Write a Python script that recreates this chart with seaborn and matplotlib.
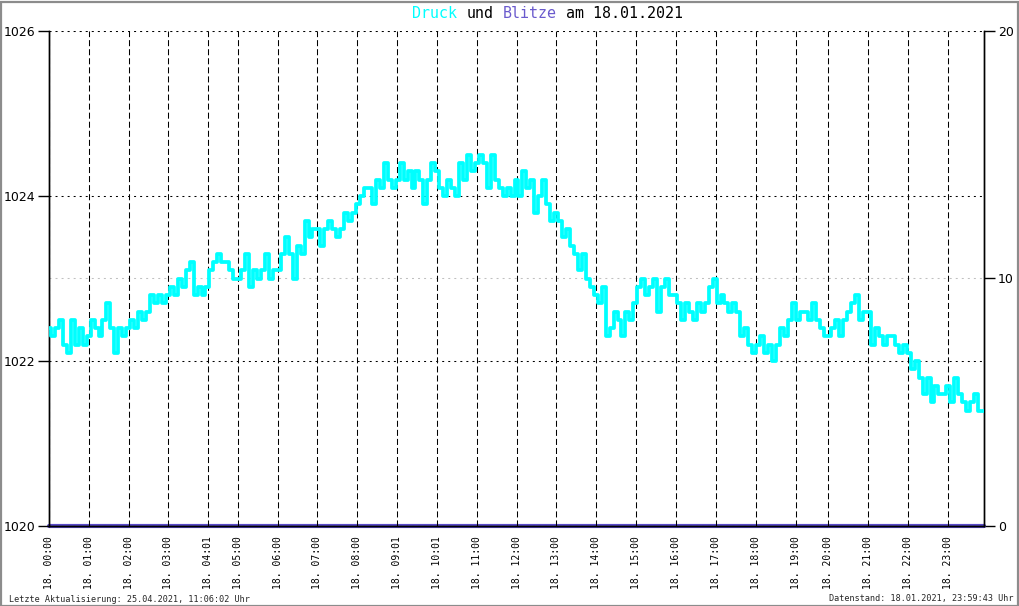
import numpy as np
import pandas as pd
import matplotlib
matplotlib.use("Agg")
import matplotlib.pyplot as plt
import seaborn as sns
from matplotlib.patches import Rectangle

# ---------------- data ----------------
# Luftdruck (hPa), ~4 min resolution, hour by hour
druck = [
    # 00
    1022.4, 1022.3, 1022.4, 1022.5, 1022.2, 1022.1, 1022.5, 1022.2, 1022.4, 1022.2,
    # 01
    1022.3, 1022.5, 1022.4, 1022.3, 1022.5, 1022.7, 1022.4, 1022.1, 1022.4, 1022.3,
    # 02
    1022.4, 1022.5, 1022.4, 1022.6, 1022.5, 1022.6, 1022.8, 1022.7, 1022.8, 1022.7,
    # 03
    1022.8, 1022.9, 1022.8, 1023.0, 1022.9, 1023.1, 1023.2, 1022.8, 1022.9, 1022.8,
    # 04
    1022.9, 1023.1, 1023.2, 1023.3, 1023.2, 1023.2, 1023.1, 1023.0,
    # 05
    1023.0, 1023.1, 1023.3, 1022.9, 1023.1, 1023.0, 1023.1, 1023.3, 1023.0, 1023.1,
    # 06
    1023.1, 1023.3, 1023.5, 1023.3, 1023.0, 1023.4, 1023.3, 1023.7, 1023.5, 1023.6,
    # 07
    1023.6, 1023.4, 1023.6, 1023.7, 1023.6, 1023.5, 1023.6, 1023.8, 1023.7, 1023.8,
    # 08
    1023.9, 1024.0, 1024.1, 1024.1, 1023.9, 1024.2, 1024.1, 1024.4, 1024.2, 1024.1,
    # 09
    1024.2, 1024.4, 1024.2, 1024.3, 1024.1, 1024.3, 1024.2, 1023.9, 1024.2, 1024.4,
    # 10
    1024.3, 1024.1, 1024.0, 1024.2, 1024.1, 1024.0, 1024.4, 1024.2, 1024.5, 1024.3,
    # 11
    1024.4, 1024.5, 1024.4, 1024.1, 1024.5, 1024.2, 1024.1, 1024.0, 1024.1, 1024.0,
    # 12
    1024.2, 1024.0, 1024.3, 1024.1, 1024.2, 1023.8, 1024.0, 1024.2, 1023.9, 1023.7,
    # 13
    1023.8, 1023.7, 1023.5, 1023.6, 1023.4, 1023.3, 1023.1, 1023.3, 1023.0, 1022.9,
    # 14
    1022.8, 1022.7, 1022.9, 1022.3, 1022.4, 1022.6, 1022.5, 1022.3, 1022.6, 1022.5,
    # 15
    1022.7, 1022.9, 1023.0, 1022.8, 1022.9, 1023.0, 1022.6, 1022.9, 1023.0, 1022.8,
    # 16
    1022.8, 1022.7, 1022.5, 1022.7, 1022.6, 1022.5, 1022.7, 1022.6, 1022.7, 1022.9,
    # 17
    1023.0, 1022.7, 1022.8, 1022.7, 1022.6, 1022.7, 1022.6, 1022.3, 1022.4, 1022.2,
    # 18
    1022.1, 1022.2, 1022.3, 1022.1, 1022.2, 1022.0, 1022.2, 1022.4, 1022.3, 1022.5,
    # 19
    1022.7, 1022.5, 1022.6, 1022.6, 1022.5, 1022.7, 1022.5, 1022.4, 1022.3,
    # 20
    1022.3, 1022.4, 1022.5, 1022.3, 1022.5, 1022.6, 1022.7, 1022.8, 1022.5, 1022.6,
    # 21
    1022.6, 1022.2, 1022.4, 1022.3, 1022.2, 1022.3, 1022.3, 1022.2, 1022.1, 1022.2,
    # 22
    1022.1, 1021.9, 1022.0, 1021.8, 1021.6, 1021.8, 1021.5, 1021.7, 1021.6, 1021.6,
    # 23
    1021.7, 1021.5, 1021.8, 1021.6, 1021.5, 1021.4, 1021.5, 1021.6, 1021.4, 1021.4,
]
# Blitze (Anzahl) - keine Blitze an diesem Tag
blitze_zeit = [0.0, 24.0]
blitze_anzahl = [0, 0]

tick_labels = ["18. 00:00", "18. 01:00", "18. 02:00", "18. 03:00", "18. 04:01",
               "18. 05:00", "18. 06:00", "18. 07:00", "18. 08:00", "18. 09:01",
               "18. 10:01", "18. 11:00", "18. 12:00", "18. 13:00", "18. 14:00",
               "18. 15:00", "18. 16:00", "18. 17:00", "18. 18:00", "18. 19:00",
               "18. 20:00", "18. 21:00", "18. 22:00", "18. 23:00"]
tick_pos = [0.0, 1.027, 2.053, 3.054, 4.081, 4.851, 5.878, 6.879, 7.906, 8.932,
            9.959, 10.986, 12.013, 13.014, 14.040, 15.067, 16.094, 17.121, 18.147,
            19.174, 19.996, 21.022, 22.049, 23.076]

left_ticks = [1020, 1022, 1024, 1026]
right_ticks = [0, 10, 20]

title_parts = ["Druck", "und", "Blitze", "am 18.01.2021"]
title_colors = ["#00FFFF", "black", "#6A5ACD", "black"]

# ---------------- plot ----------------
sns.set_theme(style="white")
plt.rcParams["font.family"] = ["DejaVu Sans"]

W, H = 1020, 606
fig = plt.figure(figsize=(W / 100, H / 100), dpi=100)
fig.patch.set_facecolor("white")

x0, x1, y0, y1 = 49, 984, 31, 526
ax = fig.add_axes([x0 / W, 1 - y1 / H, (x1 - x0) / W, (y1 - y0) / H])
ax2 = ax.twinx()

df = pd.DataFrame({"zeit": np.linspace(0, 24, len(druck)), "druck": druck})
sns.lineplot(data=df, x="zeit", y="druck", ax=ax, color="#00FFFF",
             linewidth=2.7, drawstyle="steps-mid", zorder=3)

dfb = pd.DataFrame({"zeit": blitze_zeit, "anzahl": blitze_anzahl})
sns.lineplot(data=dfb, x="zeit", y="anzahl", ax=ax2, color="#5A4BC8",
             linewidth=3.0, clip_on=False, zorder=1)

ax.set_xlim(0, 24)
ax.set_ylim(1020, 1026)
ax2.set_ylim(0, 20)

ax.set_xticks(tick_pos)
ax.set_xticklabels(tick_labels, rotation=90, family="DejaVu Sans Mono",
                   fontsize=7, va="top")
ax.set_yticks(left_ticks)
ax.set_yticklabels([str(t) for t in left_ticks], fontsize=9)
ax2.set_yticks(right_ticks)
ax2.set_yticklabels([str(t) for t in right_ticks], fontsize=9)

ax.set_xlabel("")
ax.set_ylabel("")
ax2.set_ylabel("")

# grids
ax.grid(False)
ax2.grid(False)
ax.xaxis.grid(True, color="black", linewidth=0.75, linestyle=(0, (5.8, 2.9)))
ax.yaxis.grid(True, color="black", linewidth=0.75, linestyle=(0, (1.9, 3.9)))
ax2.yaxis.grid(True, color="#c0c0c0", linewidth=0.75, linestyle=(0, (1.9, 3.9)))
ax.set_axisbelow(True)

# put pressure axes above the twin (so grey grid stays behind the data)
ax.set_zorder(ax2.get_zorder() + 1)
ax.patch.set_visible(False)
ax2.patch.set_facecolor("white")

for a in (ax, ax2):
    a.spines["top"].set_visible(False)
    for s in ("left", "right", "bottom"):
        a.spines[s].set_color("black")
        a.spines[s].set_linewidth(1.0)

ax.tick_params(axis="x", length=0, pad=7, colors="black")
ax.tick_params(axis="y", direction="out", length=8, width=1, pad=2,
               colors="black", left=True)
ax2.tick_params(axis="y", direction="out", length=8, width=1, pad=2,
                colors="black", right=True)

# multicoloured title (monospace, each word placed by character offset)
title_fs = 10.8
char_px = 0.602 * title_fs * 100 / 72
offset = 0
for txt, col in zip(title_parts, title_colors):
    fig.text((412 + offset * char_px) / W, 1 - 14 / H, txt,
             family="DejaVu Sans Mono", fontsize=title_fs, color=col,
             ha="left", va="center")
    offset += len(txt) + 1

fig.text(9 / W, 1 - 599 / H, "Letzte Aktualisierung: 25.04.2021, 11:06:02 Uhr",
         family="DejaVu Sans Mono", fontsize=6.1, ha="left", va="center")
fig.text(1014 / W, 1 - 599 / H, "Datenstand: 18.01.2021, 23:59:43 Uhr",
         family="DejaVu Sans Mono", fontsize=6.1, ha="right", va="center")

# grey frame around the image
fig.patches.append(Rectangle((0.5 / W, 0.5 / H), 1 - 2 / W, 1 - 2 / H,
                             transform=fig.transFigure, fill=False,
                             edgecolor="#8c8c8c", linewidth=1.6))

fig.savefig("out.png", dpi=100)
